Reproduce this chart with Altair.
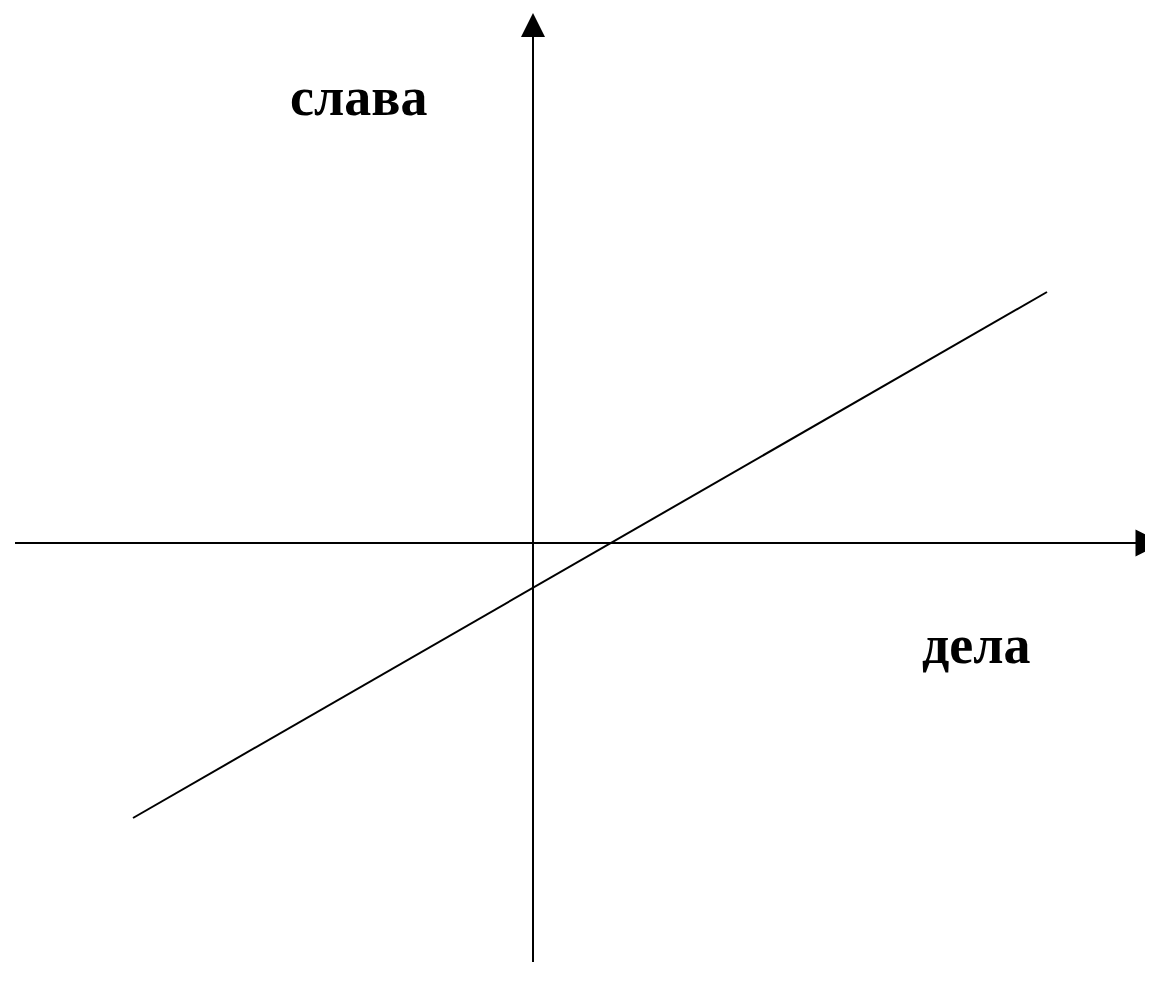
import altair as alt
import pandas as pd

# segments (origin at the axes' crossing), units ~ pixels
seg_name = ["y_axis", "x_axis", "line"]
seg_x1 = [0, -518, -400]
seg_y1 = [-419, 0, -275]
seg_x2 = [0, 605, 514]
seg_y2 = [506, 0, 251]

# arrow heads
arrow_x = [0, 616]
arrow_y = [518, 0]
arrow_shape = ["M0,-1L1,1L-1,1Z", "M1,0L-1,-1L-1,1Z"]
arrow_size = [576, 729]

# labels
label_text = ["слава", "дела"]
label_x = [-243, 389]
label_y = [428, -120]

segs = pd.DataFrame({"name": seg_name, "x1": seg_x1, "y1": seg_y1, "x2": seg_x2, "y2": seg_y2})
arrows = pd.DataFrame({"x": arrow_x, "y": arrow_y, "shape": arrow_shape, "size": arrow_size})
labels = pd.DataFrame({"t": label_text, "x": label_x, "y": label_y})

xs = alt.Scale(domain=[-525, 612], nice=False, zero=False)
ys = alt.Scale(domain=[-434, 535], nice=False, zero=False)

rules = alt.Chart(segs).mark_rule(color="black", strokeWidth=2).encode(
    x=alt.X("x1:Q", scale=xs, axis=None),
    y=alt.Y("y1:Q", scale=ys, axis=None),
    x2="x2:Q",
    y2="y2:Q",
)

heads = alt.Chart(arrows).mark_point(filled=True, color="black", opacity=1, strokeWidth=0).encode(
    x=alt.X("x:Q", scale=xs, axis=None),
    y=alt.Y("y:Q", scale=ys, axis=None),
    shape=alt.Shape("shape:N", scale=None),
    size=alt.Size("size:Q", scale=None),
)

texts = alt.Chart(labels).mark_text(
    font="Liberation Serif", fontSize=54, fontWeight="bold", color="black",
    align="left", baseline="alphabetic",
).encode(
    x=alt.X("x:Q", scale=xs, axis=None),
    y=alt.Y("y:Q", scale=ys, axis=None),
    text="t:N",
)

chart = (rules + heads + texts).properties(
    width=1137, height=969, padding=0,
    autosize=alt.AutoSizeParams(type="none"),
).configure_view(stroke=None)

chart.save("out.html", embed_options={"renderer": "svg", "actions": False})
